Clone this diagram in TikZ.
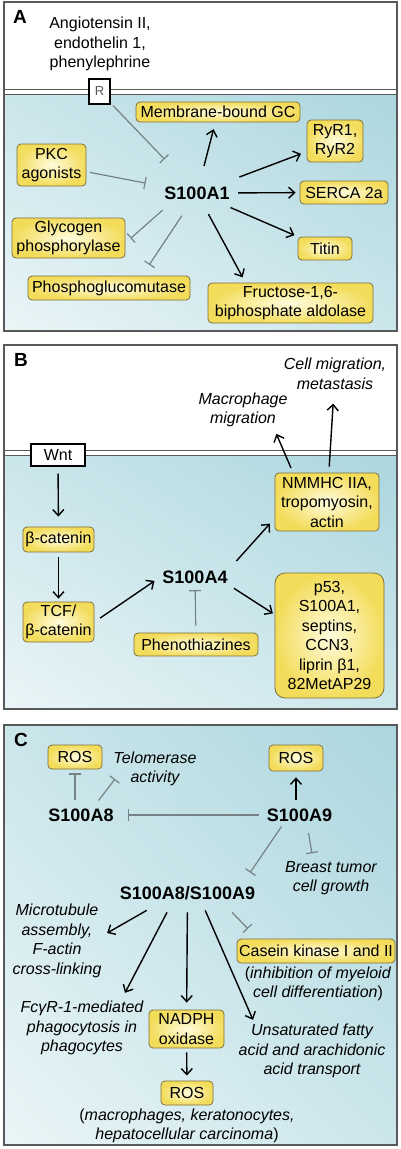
\documentclass[tikz,border=0pt]{standalone}
\usepackage{fontspec}
\setmainfont{Liberation Sans}
\usetikzlibrary{arrows.meta,shadings}

\definecolor{framegrey}{RGB}{89,89,89}
\definecolor{inhgrey}{RGB}{118,130,135}
\definecolor{cellhi}{RGB}{172,214,222}
\definecolor{cellmid}{RGB}{203,230,235}
\definecolor{celllo}{RGB}{234,245,247}
\definecolor{boxedge}{RGB}{125,112,60}
\definecolor{boxin}{RGB}{255,252,222}
\definecolor{boxout}{RGB}{243,220,90}

\newcommand{\txt}{\fontsize{16}{19.5}\selectfont}
\newcommand{\bigtxt}{\fontsize{18}{21}\selectfont\bfseries}

\begin{document}
\begin{tikzpicture}[
  x=1pt, y=-1pt, font=\txt,
  mol/.style={draw=boxedge, line width=0.8pt, rounded corners=4pt, inner color=boxin, outer color=boxout, align=center, inner sep=1pt},
  rec/.style={draw=black, line width=1.2pt, fill=white, inner sep=1pt},
  prot/.style={font=\bigtxt, inner sep=2pt},
  note/.style={font=\txt\itshape, align=center, inner sep=1pt},
  lbl/.style={font=\fontsize{19}{22}\selectfont\bfseries},
  panel/.style={draw=framegrey, line width=1.2pt},
  memb/.style={draw=framegrey, line width=1pt},
  cell/.style={upper right=cellhi, lower left=celllo, upper left=cellmid, lower right=cellmid},
  act/.style={line width=1.4pt, -{Straight Barb[length=6pt,width=11pt]}},
  inh/.style={draw=inhgrey, line width=1.2pt, -{Bar[width=12pt]}},
]
  \useasboundingbox (0,0) rectangle (400,1149);

  % panel A
  \shade[cell] (4,94.3) rectangle (397,331);
  \draw[memb] (4,89.3) -- (397,89.3) (4,94.3) -- (397,94.3);
  \draw[panel] (4,2) rectangle (397,331);

  \node[lbl] (labA) at (20,17) {A};
  \node[align=center, inner sep=1pt] (ang) at (100,44) {Angiotensin II,\\endothelin 1,\\phenylephrine};
  \node[rec, minimum width=21, minimum height=25, font=\fontsize{13}{15}\selectfont, text=framegrey] (rcp) at (99.5,91.5) {R};
  \node[mol, minimum width=164, minimum height=20] (gc) at (218,112) {Membrane-bound GC};
  \node[mol, minimum width=56, minimum height=42] (ryr) at (335,141) {RyR1,\\RyR2};
  \node[mol, minimum width=69, minimum height=42] (pkc) at (51.5,165) {PKC\\agonists};
  \node[prot] (s1) at (197,193) {S100A1};
  \node[mol, minimum width=88, minimum height=23] (serca) at (344,192.5) {SERCA 2a};
  \node[mol, minimum width=113, minimum height=40] (gly) at (68.5,238) {Glycogen\\phosphorylase};
  \node[mol, minimum width=54, minimum height=23] (titin) at (325,248.5) {Titin};
  \node[mol, minimum width=162, minimum height=24] (pgm) at (109,288) {Phosphoglucomutase};
  \node[mol, minimum width=165, minimum height=40] (fru) at (290.5,303) {Fructose-1,6-\\biphosphate aldolase};

  \draw[act, shorten <=19pt, shorten >=7pt] (s1) -- (gc);
  \draw[act, shorten <=21pt, shorten >=6pt] (s1) -- (ryr);
  \draw[act, shorten <=6.5pt, shorten >=4pt] (s1) -- (serca);
  \draw[act, shorten <=15pt, shorten >=3.5pt] (s1) -- (titin);
  \draw[act, shorten <=24pt, shorten >=6pt] (s1.center) -- ([xshift=-45pt]fru.north);
  \draw[inh, shorten <=3.5pt, shorten >=35pt] (rcp) -- (s1);
  \draw[inh, shorten <=3.5pt, shorten >=17pt] (pkc) -- (s1);
  \draw[inh, shorten <=26pt, shorten >=7pt] ([xshift=-15pt]s1.center) -- ([yshift=-5pt]gly.east);
  \draw[inh, shorten <=17pt, shorten >=13pt] (s1) -- ([xshift=33pt]pgm.north);

  % panel B
  \shade[cell] (4,455) rectangle (397,709);
  \draw[memb] (4,450) -- (397,450) (4,455) -- (397,455);
  \draw[panel] (4,345) rectangle (397,709);

  \node[lbl] (labB) at (21,360) {B};
  \node[note] (cellmig) at (335,374) {Cell migration,\\metastasis};
  \node[note] (macmig) at (243,410) {Macrophage\\migration};
  \node[rec, minimum width=54, minimum height=22] (wnt) at (58,455) {Wnt};
  \node[mol, minimum width=71, minimum height=25] (bcat) at (58.5,539.5) {β-catenin};
  \node[mol, minimum width=71, minimum height=40] (tcf) at (58.5,622) {TCF/\\β-catenin};
  \node[prot] (s4) at (195,577) {S100A4};
  \node[mol, minimum width=124, minimum height=23] (phen) at (196,644.5) {Phenothiazines};
  \node[mol, minimum width=104, minimum height=58] (nmm) at (327,502) {NMMHC IIA,\\tropomyosin,\\actin};
  \node[mol, rounded corners=10pt, minimum width=109, minimum height=125] (p53) at (329.5,635.5) {p53,\\S100A1,\\septins,\\CCN3,\\liprin β1,\\82MetAP29};

  \draw[act, shorten <=7pt, shorten >=10pt] (wnt) -- (bcat);
  \draw[act, shorten <=5pt, shorten >=3pt] (bcat) -- (tcf);
  \draw[act, shorten <=7pt, shorten >=7pt] (tcf.east) -- (s4.west);
  \draw[act, shorten <=10pt, shorten >=7pt] (s4.north east) -- ([yshift=13pt]nmm.south west);
  \draw[act, shorten <=5pt, shorten >=2pt] (s4.south east) -- ([yshift=21pt]p53.west);
  \draw[act, shorten <=5pt, shorten >=6pt] ([xshift=-34pt]nmm.north) -- ([xshift=31pt]macmig.south);
  \draw[act, shorten <=6pt, shorten >=12.7pt] (nmm) -- (cellmig);
  \draw[inh, shorten <=7pt, shorten >=4.5pt] (phen) -- (s4);

  % panel C
  \shade[cell] (4,725) rectangle (397,1145);
  \draw[panel] (4,725) rectangle (397,1145);

  \node[lbl] (labC) at (21,740) {C};
  \node[mol, minimum width=54, minimum height=24] (rosA) at (75,757) {ROS};
  \node[note] (telo) at (155,769) {Telomerase\\activity};
  \node[mol, minimum width=54, minimum height=26] (rosB) at (296,758) {ROS};
  \node[prot] (s8) at (81,815) {S100A8};
  \node[prot] (s9) at (299.5,815) {S100A9};
  \node[note] (breast) at (331,878) {Breast tumor\\cell growth};
  \node[prot] (s89) at (187.5,893) {S100A8/S100A9};
  \node[note] (micro) at (57,941) {Microtubule\\assembly,\\F-actin\\cross-linking};
  \node[mol, minimum width=158, minimum height=24] (casein) at (316,951) {Casein kinase I and II};
  \node[align=center, inner sep=1pt] (myelo) at (318,984) {(\textit{inhibition of myeloid}\\\textit{cell differentiation})};
  \node[note] (fcg) at (82,1028) {FcγR-1-mediated\\phagocytosis in\\phagocytes};
  \node[mol, minimum width=75, minimum height=38] (nadph) at (186.5,1029) {NADPH\\oxidase};
  \node[note] (fatty) at (312,1051) {Unsaturated fatty\\acid and arachidonic\\acid transport};
  \node[mol, minimum width=52, minimum height=24] (rosC) at (187,1093) {ROS};
  \node[align=center, inner sep=1pt] (cells) at (187,1126) {(\textit{macrophages, keratonocytes,}\\\textit{hepatocellular carcinoma})};

  \draw[inh, shorten <=6.5pt, shorten >=4pt] ([xshift=-6pt]s8.north) -- (rosA);
  \draw[inh, shorten <=7.5pt] ([xshift=13pt]s8.north) -- ([xshift=-40pt,yshift=-10pt]telo.center);
  \draw[inh, shorten <=6pt, shorten >=12.5pt] (s9) -- (s8);
  \draw[act, shorten <=6.5pt, shorten >=6pt] ([xshift=-3.5pt]s9.north) -- (rosB.south);
  \draw[inh, shorten <=9.5pt, shorten >=6.7pt] ([xshift=7.5pt]s9.south) -- ([xshift=-18pt]breast.north);
  \draw[inh, shorten <=3.5pt, shorten >=14pt] ([xshift=-16pt]s9.south) -- ([xshift=-15pt]s89.north east);
  \draw[act, shorten <=17pt] ([xshift=-26pt]s89.south) -- ([xshift=4.5pt,yshift=8pt]micro.east);
  \draw[act, shorten <=11.8pt] ([xshift=-15pt]s89.south) -- ([xshift=43pt,yshift=7pt]fcg.north);
  \draw[act, shorten <=10.5pt, shorten >=7pt] (s89) -- (nadph);
  \draw[act, shorten <=4pt, shorten >=5pt] (nadph) -- (rosC);
  \draw[act, shorten <=9.3pt] ([xshift=14pt]s89.south) -- ([xshift=-59pt,yshift=3pt]fatty.north);
  \draw[inh, shorten <=14.4pt, shorten >=13.7pt] ([xshift=34.5pt]s89.south) -- ([xshift=-58.6pt]casein.north);
\end{tikzpicture}
\end{document}
